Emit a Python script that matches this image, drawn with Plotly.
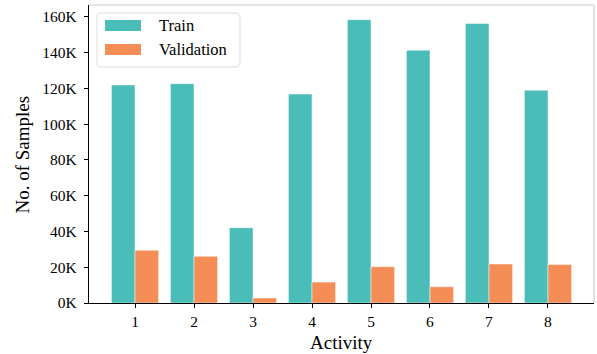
import plotly.graph_objects as go

activities = [1, 2, 3, 4, 5, 6, 7, 8]
train = [122000, 122700, 42100, 116900, 158500, 141400, 156300, 119000]
validation = [29500, 26100, 2800, 11700, 20300, 9100, 21800, 21600]
ytick_vals = [0, 20000, 40000, 60000, 80000, 100000, 120000, 140000, 160000]
ytick_text = ["0K", "20K", "40K", "60K", "80K", "100K", "120K", "140K", "160K"]

TEAL = "#4ABDB8"
ORANGE = "#F58D56"
FONT = "Liberation Serif"

fig = go.Figure()
fig.add_trace(go.Bar(x=activities, y=train, name="Train", marker=dict(color=TEAL, line=dict(color="rgba(255,255,255,0.6)", width=0.8))))
fig.add_trace(go.Bar(x=activities, y=validation, name="Validation", marker=dict(color=ORANGE, line=dict(color="rgba(255,255,255,0.6)", width=0.8))))

fig.update_layout(
    width=597, height=354,
    margin=dict(l=89, r=3, t=5, b=51),
    plot_bgcolor="white", paper_bgcolor="white",
    barmode="group", bargap=0.2, bargroupgap=0,
    showlegend=False,
    font=dict(family=FONT, color="black", size=15),
)
fig.update_xaxes(
    range=[0.22, 8.78], tickvals=activities, ticktext=[str(a) for a in activities],
    showline=True, linecolor="black", linewidth=1.2, showgrid=False, zeroline=False,
    ticks="outside", ticklen=4, tickwidth=1, tickcolor="black",
    tickfont=dict(size=15.5, family=FONT), automargin=False,
)
fig.update_yaxes(
    range=[0, 166700], tickvals=ytick_vals, ticktext=ytick_text,
    showline=True, linecolor="black", linewidth=1.2, showgrid=False, zeroline=False,
    ticks="outside", ticklen=4, tickwidth=1, tickcolor="black",
    tickfont=dict(size=15.5, family=FONT), automargin=False, ticklabelstandoff=4,
)
# axis titles
fig.add_annotation(xref="paper", yref="paper", x=0.5, y=-0.131, text="Activity", showarrow=False,
                   xanchor="center", yanchor="middle", font=dict(size=19, family=FONT, color="black"))
fig.add_annotation(xref="paper", yref="paper", x=-0.1317, y=0.5, text="No. of Samples", showarrow=False, textangle=-90,
                   xanchor="center", yanchor="middle", font=dict(size=19, family=FONT, color="black"))
# top and right spines (light gray)
fig.add_shape(type="line", xref="paper", yref="paper", x0=0, x1=1, y0=1, y1=1, line=dict(color="#cccccc", width=1.2))
fig.add_shape(type="line", xref="paper", yref="paper", x0=1, x1=1, y0=0, y1=1, line=dict(color="#cccccc", width=1.2))

# custom legend
x0, x1, y0, y1 = 0.0158, 0.299, 0.792, 0.973
r = 0.008
ry = r * 505 / 298
path = (f"M {x0+r},{y0} L {x1-r},{y0} Q {x1},{y0} {x1},{y0+ry} L {x1},{y1-ry} Q {x1},{y1} {x1-r},{y1} "
        f"L {x0+r},{y1} Q {x0},{y1} {x0},{y1-ry} L {x0},{y0+ry} Q {x0},{y0} {x0+r},{y0} Z")
fig.add_shape(type="path", path=path, xref="paper", yref="paper", fillcolor="rgba(255,255,255,0.85)", line=dict(color="#dddddd", width=1))
legend_items = [("Train", TEAL, 0.950, 0.913), ("Validation", ORANGE, 0.869, 0.832)]
for name, col, ya, yb in legend_items:
    fig.add_shape(type="rect", xref="paper", yref="paper", x0=0.0317, x1=0.1030, y0=yb, y1=ya, fillcolor=col, line=dict(width=0))
    fig.add_annotation(xref="paper", yref="paper", x=0.134, y=(ya + yb) / 2, text=name, showarrow=False,
                       xanchor="left", yanchor="middle", font=dict(size=16.5, family=FONT, color="black"))

fig.write_html("out.html", config={"displayModeBar": False},
               post_script="document.body.style.margin='0';document.body.style.overflow='hidden';")
